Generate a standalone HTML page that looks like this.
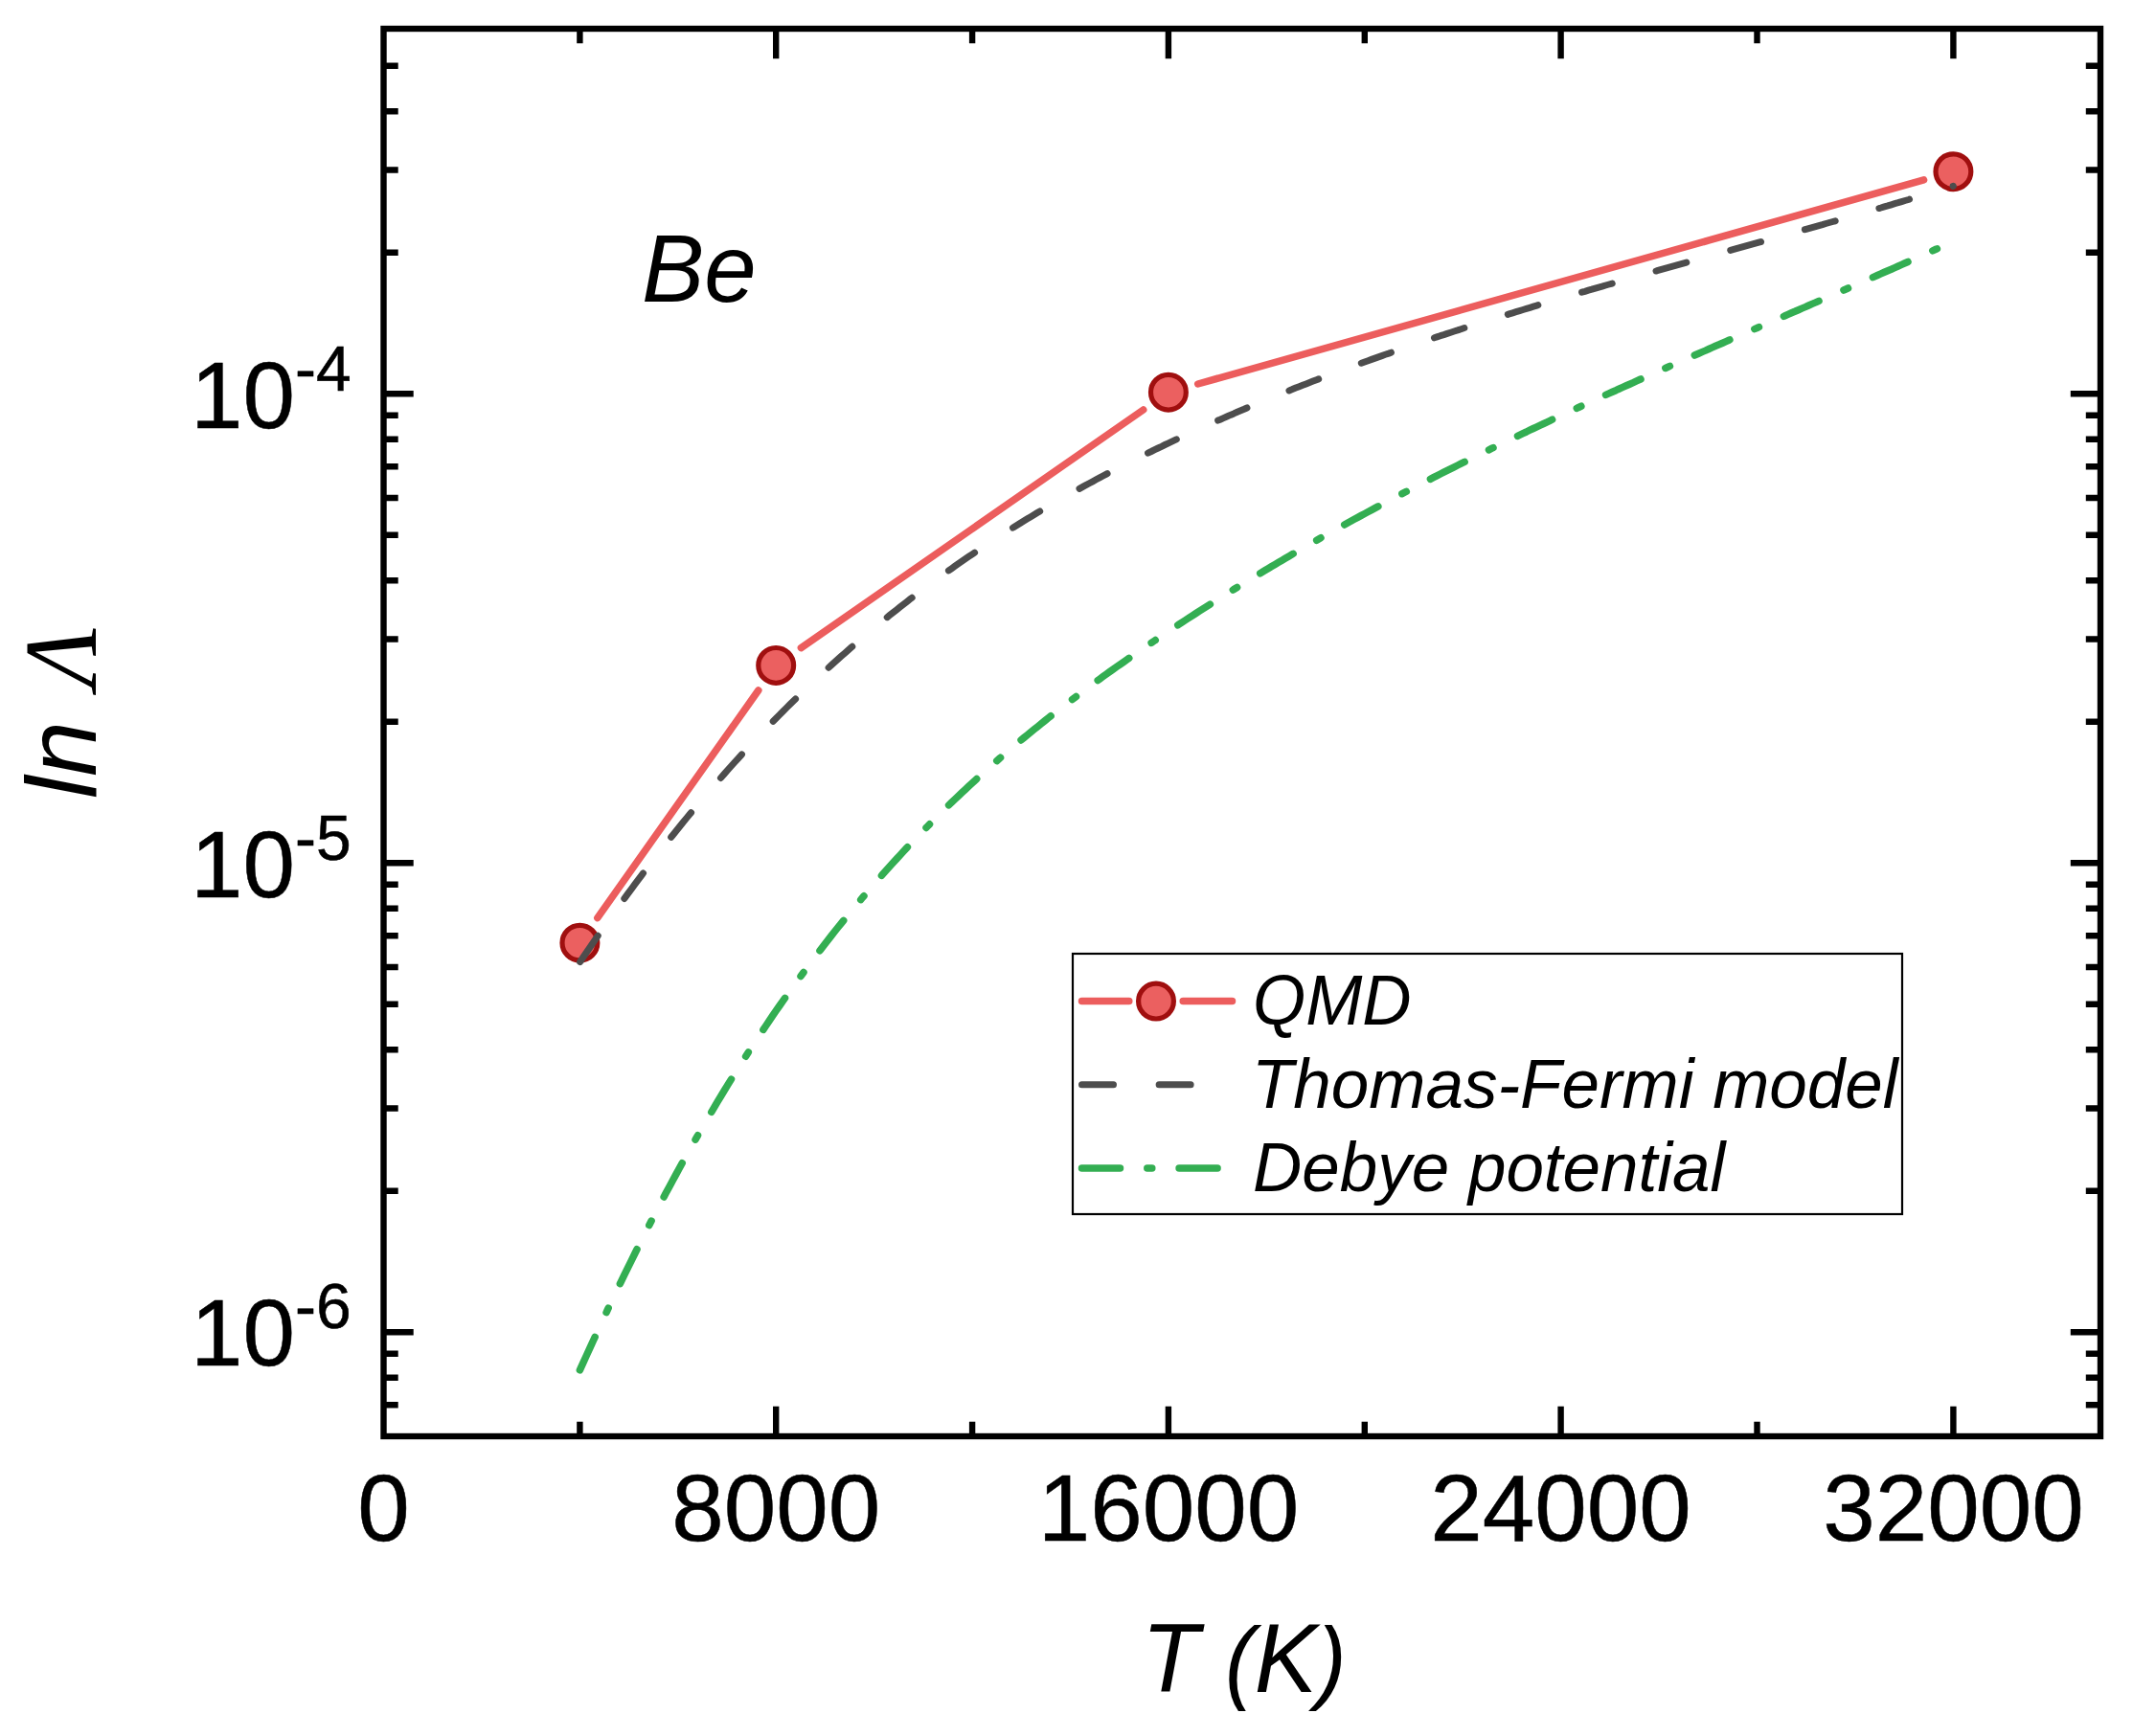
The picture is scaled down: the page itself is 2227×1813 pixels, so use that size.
<!DOCTYPE html><html><head><meta charset="utf-8"><style>html,body{margin:0;padding:0;background:#fff;overflow:hidden}svg{display:block}</style></head><body><svg width="2227" height="1813" viewBox="0 0 2227 1813">
<rect x="0" y="0" width="2227" height="1813" fill="#fff"/>
<path d="M623.8,958.6L791.8,721.0M836.4,676.6L1193.7,428.0M1250.7,401.0L2008.6,187.9" stroke="#EC5D5D" stroke-width="7.5" stroke-linecap="round" fill="none"/>
<circle cx="605.4" cy="984.7" r="18.40" fill="#EB6060" stroke="#A00F0F" stroke-width="5.2"/>
<circle cx="810.2" cy="694.9" r="18.40" fill="#EB6060" stroke="#A00F0F" stroke-width="5.2"/>
<circle cx="1219.9" cy="409.7" r="18.40" fill="#EB6060" stroke="#A00F0F" stroke-width="5.2"/>
<circle cx="2039.4" cy="179.2" r="18.40" fill="#EB6060" stroke="#A00F0F" stroke-width="5.2"/>
<path d="M605.4,1004.9 L609.0,999.5 L612.6,994.2 L616.2,989.0 L619.8,983.7 L623.4,978.5 L627.0,973.3 L630.6,968.2 L634.1,963.1 L637.7,958.0 L641.3,953.0 L644.9,948.0 L648.5,943.0 L652.1,938.1 L655.7,933.1 L659.3,928.3 L662.9,923.4 L666.5,918.6 L670.1,913.8 L673.7,909.1 L677.3,904.3 L680.9,899.7 L684.5,895.0 L688.1,890.4 L691.6,885.8 L695.2,881.2 L698.8,876.7 L702.4,872.2 L706.0,867.7 L709.6,863.2 L713.2,858.8 L716.8,854.4 L720.4,850.1 L724.0,845.7 L727.6,841.4 L731.2,837.2 L734.8,832.9 L738.4,828.7 L742.0,824.5 L745.6,820.4 L749.1,816.3 L752.7,812.2 L756.3,808.1 L759.9,804.0 L763.5,800.0 L767.1,796.0 L770.7,792.1 L774.3,788.1 L777.9,784.2 L781.5,780.4 L785.1,776.5 L788.7,772.7 L792.3,768.9 L795.9,765.1 L799.5,761.4 L803.1,757.6 L806.6,753.9 L810.2,750.3 L813.8,746.6 L817.4,743.0 L821.0,739.4 L824.6,735.8 L828.2,732.3 L831.8,728.8 L835.4,725.3 L839.0,721.8 L842.6,718.4 L846.2,715.0 L849.8,711.6 L853.4,708.2 L857.0,704.8 L860.6,701.5 L864.1,698.2 L867.7,694.9 L871.3,691.7 L874.9,688.4 L878.5,685.2 L882.1,682.1 L885.7,678.9 L889.3,675.7 L892.9,672.6 L896.5,669.5 L900.1,666.5 L903.7,663.4 L907.3,660.4 L910.9,657.4 L914.5,654.4 L918.1,651.4 L921.6,648.5 L925.2,645.5 L928.8,642.6 L932.4,639.7 L936.0,636.9 L939.6,634.0 L943.2,631.2 L946.8,628.4 L950.4,625.6 L954.0,622.9 L957.6,620.1 L961.2,617.4 L964.8,614.7 L968.4,612.0 L972.0,609.4 L975.6,606.7 L979.1,604.1 L982.7,601.5 L986.3,598.9 L989.9,596.3 L993.5,593.8 L997.1,591.2 L1000.7,588.7 L1004.3,586.2 L1007.9,583.7 L1011.5,581.2 L1015.1,578.8 L1018.7,576.4 L1022.3,573.9 L1025.9,571.5 L1029.5,569.2 L1033.1,566.8 L1036.6,564.5 L1040.2,562.1 L1043.8,559.8 L1047.4,557.5 L1051.0,555.2 L1054.6,552.9 L1058.2,550.7 L1061.8,548.5 L1065.4,546.2 L1069.0,544.0 L1072.6,541.8 L1076.2,539.7 L1079.8,537.5 L1083.4,535.3 L1087.0,533.2 L1090.6,531.1 L1094.1,529.0 L1097.7,526.9 L1101.3,524.8 L1104.9,522.7 L1108.5,520.7 L1112.1,518.6 L1115.7,516.6 L1119.3,514.6 L1122.9,512.6 L1126.5,510.6 L1130.1,508.6 L1133.7,506.7 L1137.3,504.7 L1140.9,502.8 L1144.5,500.8 L1148.1,498.9 L1151.6,497.0 L1155.2,495.1 L1158.8,493.2 L1162.4,491.4 L1166.0,489.5 L1169.6,487.7 L1173.2,485.8 L1176.8,484.0 L1180.4,482.2 L1184.0,480.4 L1187.6,478.6 L1191.2,476.8 L1194.8,475.0 L1198.4,473.2 L1202.0,471.5 L1205.6,469.7 L1209.1,468.0 L1212.7,466.3 L1216.3,464.5 L1219.9,462.8 L1223.5,461.1 L1227.1,459.4 L1230.7,457.7 L1234.3,456.1 L1237.9,454.4 L1241.5,452.7 L1245.1,451.1 L1248.7,449.4 L1252.3,447.8 L1255.9,446.2 L1259.5,444.6 L1263.1,442.9 L1266.6,441.3 L1270.2,439.7 L1273.8,438.2 L1277.4,436.6 L1281.0,435.0 L1284.6,433.4 L1288.2,431.9 L1291.8,430.3 L1295.4,428.8 L1299.0,427.3 L1302.6,425.7 L1306.2,424.2 L1309.8,422.7 L1313.4,421.2 L1317.0,419.7 L1320.6,418.2 L1324.1,416.7 L1327.7,415.3 L1331.3,413.8 L1334.9,412.3 L1338.5,410.9 L1342.1,409.4 L1345.7,408.0 L1349.3,406.6 L1352.9,405.1 L1356.5,403.7 L1360.1,402.3 L1363.7,400.9 L1367.3,399.5 L1370.9,398.1 L1374.5,396.7 L1378.1,395.4 L1381.6,394.0 L1385.2,392.6 L1388.8,391.3 L1392.4,389.9 L1396.0,388.6 L1399.6,387.2 L1403.2,385.9 L1406.8,384.6 L1410.4,383.2 L1414.0,381.9 L1417.6,380.6 L1421.2,379.3 L1424.8,378.0 L1428.4,376.7 L1432.0,375.4 L1435.6,374.1 L1439.1,372.9 L1442.7,371.6 L1446.3,370.3 L1449.9,369.1 L1453.5,367.8 L1457.1,366.5 L1460.7,365.3 L1464.3,364.1 L1467.9,362.8 L1471.5,361.6 L1475.1,360.4 L1478.7,359.1 L1482.3,357.9 L1485.9,356.7 L1489.5,355.5 L1493.1,354.3 L1496.6,353.1 L1500.2,351.9 L1503.8,350.7 L1507.4,349.6 L1511.0,348.4 L1514.6,347.2 L1518.2,346.0 L1521.8,344.9 L1525.4,343.7 L1529.0,342.5 L1532.6,341.4 L1536.2,340.2 L1539.8,339.1 L1543.4,338.0 L1547.0,336.8 L1550.6,335.7 L1554.1,334.6 L1557.7,333.4 L1561.3,332.3 L1564.9,331.2 L1568.5,330.1 L1572.1,329.0 L1575.7,327.9 L1579.3,326.8 L1582.9,325.7 L1586.5,324.6 L1590.1,323.5 L1593.7,322.4 L1597.3,321.3 L1600.9,320.2 L1604.5,319.1 L1608.1,318.0 L1611.6,317.0 L1615.2,315.9 L1618.8,314.8 L1622.4,313.7 L1626.0,312.7 L1629.6,311.6 L1633.2,310.6 L1636.8,309.5 L1640.4,308.4 L1644.0,307.4 L1647.6,306.3 L1651.2,305.3 L1654.8,304.3 L1658.4,303.2 L1662.0,302.2 L1665.6,301.1 L1669.1,300.1 L1672.7,299.1 L1676.3,298.0 L1679.9,297.0 L1683.5,296.0 L1687.1,294.9 L1690.7,293.9 L1694.3,292.9 L1697.9,291.9 L1701.5,290.8 L1705.1,289.8 L1708.7,288.8 L1712.3,287.8 L1715.9,286.8 L1719.5,285.8 L1723.1,284.8 L1726.6,283.7 L1730.2,282.7 L1733.8,281.7 L1737.4,280.7 L1741.0,279.7 L1744.6,278.7 L1748.2,277.7 L1751.8,276.7 L1755.4,275.7 L1759.0,274.7 L1762.6,273.7 L1766.2,272.7 L1769.8,271.7 L1773.4,270.7 L1777.0,269.7 L1780.6,268.7 L1784.1,267.7 L1787.7,266.7 L1791.3,265.7 L1794.9,264.7 L1798.5,263.7 L1802.1,262.7 L1805.7,261.7 L1809.3,260.7 L1812.9,259.7 L1816.5,258.7 L1820.1,257.7 L1823.7,256.7 L1827.3,255.7 L1830.9,254.7 L1834.5,253.7 L1838.1,252.7 L1841.6,251.7 L1845.2,250.7 L1848.8,249.7 L1852.4,248.7 L1856.0,247.7 L1859.6,246.7 L1863.2,245.7 L1866.8,244.7 L1870.4,243.7 L1874.0,242.7 L1877.6,241.7 L1881.2,240.6 L1884.8,239.6 L1888.4,238.6 L1892.0,237.6 L1895.6,236.6 L1899.1,235.6 L1902.7,234.6 L1906.3,233.5 L1909.9,232.5 L1913.5,231.5 L1917.1,230.5 L1920.7,229.4 L1924.3,228.4 L1927.9,227.4 L1931.5,226.4 L1935.1,225.3 L1938.7,224.3 L1942.3,223.2 L1945.9,222.2 L1949.5,221.2 L1953.1,220.1 L1956.6,219.1 L1960.2,218.0 L1963.8,217.0 L1967.4,215.9 L1971.0,214.9 L1974.6,213.8 L1978.2,212.7 L1981.8,211.7 L1985.4,210.6 L1989.0,209.5 L1992.6,208.5 L1996.2,207.4 L1999.8,206.3 L2003.4,205.2 L2007.0,204.2 L2010.6,203.1 L2014.1,202.0 L2017.7,200.9 L2021.3,199.8 L2024.9,198.7 L2028.5,197.6 L2032.1,196.5 L2035.7,195.4 L2039.3,194.3" stroke="#4D4D4D" stroke-width="7.0" stroke-linecap="round" stroke-linejoin="round" fill="none" stroke-dasharray="33.0 47.63" stroke-dashoffset="-0.46"/>
<path d="M605.4,1430.9 L609.0,1422.9 L612.6,1415.0 L616.2,1407.1 L619.8,1399.3 L623.4,1391.5 L627.0,1383.8 L630.6,1376.1 L634.1,1368.4 L637.7,1360.8 L641.3,1353.3 L644.9,1345.8 L648.5,1338.3 L652.1,1330.9 L655.7,1323.6 L659.3,1316.3 L662.9,1309.0 L666.5,1301.8 L670.1,1294.7 L673.7,1287.6 L677.3,1280.5 L680.9,1273.5 L684.5,1266.6 L688.1,1259.7 L691.6,1252.9 L695.2,1246.1 L698.8,1239.4 L702.4,1232.7 L706.0,1226.1 L709.6,1219.5 L713.2,1213.0 L716.8,1206.5 L720.4,1200.1 L724.0,1193.7 L727.6,1187.4 L731.2,1181.2 L734.8,1175.0 L738.4,1168.8 L742.0,1162.7 L745.6,1156.6 L749.1,1150.6 L752.7,1144.7 L756.3,1138.8 L759.9,1132.9 L763.5,1127.1 L767.1,1121.3 L770.7,1115.6 L774.3,1109.9 L777.9,1104.3 L781.5,1098.7 L785.1,1093.2 L788.7,1087.7 L792.3,1082.3 L795.9,1076.9 L799.5,1071.5 L803.1,1066.2 L806.6,1060.9 L810.2,1055.7 L813.8,1050.5 L817.4,1045.4 L821.0,1040.3 L824.6,1035.2 L828.2,1030.2 L831.8,1025.2 L835.4,1020.3 L839.0,1015.4 L842.6,1010.5 L846.2,1005.7 L849.8,1000.9 L853.4,996.2 L857.0,991.5 L860.6,986.8 L864.1,982.2 L867.7,977.6 L871.3,973.0 L874.9,968.5 L878.5,964.1 L882.1,959.6 L885.7,955.2 L889.3,950.8 L892.9,946.5 L896.5,942.2 L900.1,937.9 L903.7,933.7 L907.3,929.5 L910.9,925.3 L914.5,921.2 L918.1,917.1 L921.6,913.0 L925.2,909.0 L928.8,905.0 L932.4,901.0 L936.0,897.1 L939.6,893.2 L943.2,889.3 L946.8,885.4 L950.4,881.6 L954.0,877.8 L957.6,874.1 L961.2,870.4 L964.8,866.7 L968.4,863.0 L972.0,859.3 L975.6,855.7 L979.1,852.1 L982.7,848.6 L986.3,845.0 L989.9,841.5 L993.5,838.1 L997.1,834.6 L1000.7,831.2 L1004.3,827.8 L1007.9,824.4 L1011.5,821.0 L1015.1,817.7 L1018.7,814.4 L1022.3,811.1 L1025.9,807.9 L1029.5,804.6 L1033.1,801.4 L1036.6,798.2 L1040.2,795.1 L1043.8,791.9 L1047.4,788.8 L1051.0,785.7 L1054.6,782.6 L1058.2,779.6 L1061.8,776.5 L1065.4,773.5 L1069.0,770.5 L1072.6,767.6 L1076.2,764.6 L1079.8,761.7 L1083.4,758.8 L1087.0,755.9 L1090.6,753.0 L1094.1,750.1 L1097.7,747.3 L1101.3,744.5 L1104.9,741.6 L1108.5,738.9 L1112.1,736.1 L1115.7,733.3 L1119.3,730.6 L1122.9,727.9 L1126.5,725.2 L1130.1,722.5 L1133.7,719.8 L1137.3,717.1 L1140.9,714.5 L1144.5,711.8 L1148.1,709.2 L1151.6,706.6 L1155.2,704.0 L1158.8,701.4 L1162.4,698.9 L1166.0,696.3 L1169.6,693.8 L1173.2,691.3 L1176.8,688.7 L1180.4,686.2 L1184.0,683.7 L1187.6,681.2 L1191.2,678.8 L1194.8,676.3 L1198.4,673.9 L1202.0,671.4 L1205.6,669.0 L1209.1,666.6 L1212.7,664.1 L1216.3,661.7 L1219.9,659.3 L1223.5,657.0 L1227.1,654.6 L1230.7,652.2 L1234.3,649.9 L1237.9,647.5 L1241.5,645.2 L1245.1,642.8 L1248.7,640.5 L1252.3,638.2 L1255.9,635.9 L1259.5,633.6 L1263.1,631.3 L1266.6,629.0 L1270.2,626.8 L1273.8,624.5 L1277.4,622.2 L1281.0,620.0 L1284.6,617.8 L1288.2,615.5 L1291.8,613.3 L1295.4,611.1 L1299.0,608.9 L1302.6,606.7 L1306.2,604.5 L1309.8,602.3 L1313.4,600.1 L1317.0,598.0 L1320.6,595.8 L1324.1,593.7 L1327.7,591.5 L1331.3,589.4 L1334.9,587.3 L1338.5,585.2 L1342.1,583.0 L1345.7,580.9 L1349.3,578.8 L1352.9,576.8 L1356.5,574.7 L1360.1,572.6 L1363.7,570.5 L1367.3,568.5 L1370.9,566.4 L1374.5,564.4 L1378.1,562.3 L1381.6,560.3 L1385.2,558.3 L1388.8,556.3 L1392.4,554.3 L1396.0,552.3 L1399.6,550.3 L1403.2,548.3 L1406.8,546.3 L1410.4,544.3 L1414.0,542.3 L1417.6,540.4 L1421.2,538.4 L1424.8,536.5 L1428.4,534.5 L1432.0,532.6 L1435.6,530.6 L1439.1,528.7 L1442.7,526.8 L1446.3,524.9 L1449.9,523.0 L1453.5,521.1 L1457.1,519.2 L1460.7,517.3 L1464.3,515.4 L1467.9,513.5 L1471.5,511.7 L1475.1,509.8 L1478.7,507.9 L1482.3,506.1 L1485.9,504.2 L1489.5,502.4 L1493.1,500.5 L1496.6,498.7 L1500.2,496.9 L1503.8,495.0 L1507.4,493.2 L1511.0,491.4 L1514.6,489.6 L1518.2,487.8 L1521.8,486.0 L1525.4,484.2 L1529.0,482.4 L1532.6,480.6 L1536.2,478.8 L1539.8,477.1 L1543.4,475.3 L1547.0,473.5 L1550.6,471.8 L1554.1,470.0 L1557.7,468.2 L1561.3,466.5 L1564.9,464.8 L1568.5,463.0 L1572.1,461.3 L1575.7,459.5 L1579.3,457.8 L1582.9,456.1 L1586.5,454.4 L1590.1,452.7 L1593.7,451.0 L1597.3,449.2 L1600.9,447.5 L1604.5,445.8 L1608.1,444.1 L1611.6,442.5 L1615.2,440.8 L1618.8,439.1 L1622.4,437.4 L1626.0,435.7 L1629.6,434.0 L1633.2,432.4 L1636.8,430.7 L1640.4,429.0 L1644.0,427.4 L1647.6,425.7 L1651.2,424.1 L1654.8,422.4 L1658.4,420.8 L1662.0,419.1 L1665.6,417.5 L1669.1,415.8 L1672.7,414.2 L1676.3,412.5 L1679.9,410.9 L1683.5,409.3 L1687.1,407.7 L1690.7,406.0 L1694.3,404.4 L1697.9,402.8 L1701.5,401.2 L1705.1,399.6 L1708.7,397.9 L1712.3,396.3 L1715.9,394.7 L1719.5,393.1 L1723.1,391.5 L1726.6,389.9 L1730.2,388.3 L1733.8,386.7 L1737.4,385.1 L1741.0,383.5 L1744.6,381.9 L1748.2,380.3 L1751.8,378.7 L1755.4,377.1 L1759.0,375.6 L1762.6,374.0 L1766.2,372.4 L1769.8,370.8 L1773.4,369.2 L1777.0,367.6 L1780.6,366.1 L1784.1,364.5 L1787.7,362.9 L1791.3,361.3 L1794.9,359.8 L1798.5,358.2 L1802.1,356.6 L1805.7,355.0 L1809.3,353.5 L1812.9,351.9 L1816.5,350.3 L1820.1,348.8 L1823.7,347.2 L1827.3,345.6 L1830.9,344.0 L1834.5,342.5 L1838.1,340.9 L1841.6,339.3 L1845.2,337.8 L1848.8,336.2 L1852.4,334.6 L1856.0,333.1 L1859.6,331.5 L1863.2,330.0 L1866.8,328.4 L1870.4,326.8 L1874.0,325.3 L1877.6,323.7 L1881.2,322.1 L1884.8,320.6 L1888.4,319.0 L1892.0,317.4 L1895.6,315.9 L1899.1,314.3 L1902.7,312.7 L1906.3,311.2 L1909.9,309.6 L1913.5,308.0 L1917.1,306.4 L1920.7,304.9 L1924.3,303.3 L1927.9,301.7 L1931.5,300.1 L1935.1,298.6 L1938.7,297.0 L1942.3,295.4 L1945.9,293.8 L1949.5,292.3 L1953.1,290.7 L1956.6,289.1 L1960.2,287.5 L1963.8,285.9 L1967.4,284.3 L1971.0,282.7 L1974.6,281.2 L1978.2,279.6 L1981.8,278.0 L1985.4,276.4 L1989.0,274.8 L1992.6,273.2 L1996.2,271.6 L1999.8,270.0 L2003.4,268.4 L2007.0,266.8 L2010.6,265.2 L2014.1,263.5 L2017.7,261.9 L2021.3,260.3 L2024.9,258.7 L2028.5,257.1 L2032.1,255.5 L2035.7,253.8 L2039.3,252.2" stroke="#33AE52" stroke-width="7.5" stroke-linecap="round" stroke-linejoin="round" fill="none" stroke-dasharray="40.0 28.29 5.0 28.29" stroke-dashoffset="2.04"/>
<g stroke="#000" fill="none" stroke-linecap="square">
<rect x="400.5" y="30.0" width="1792.5" height="1470.0" stroke-width="6.4"/>
<path d="M605.4,1500.0V1484.8M605.4,30.0V45.2M810.2,1500.0V1468.8M810.2,30.0V61.2M1015.1,1500.0V1484.8M1015.1,30.0V45.2M1219.9,1500.0V1468.8M1219.9,30.0V61.2M1424.8,1500.0V1484.8M1424.8,30.0V45.2M1629.6,1500.0V1468.8M1629.6,30.0V61.2M1834.5,1500.0V1484.8M1834.5,30.0V45.2M2039.4,1500.0V1468.8M2039.4,30.0V61.2M400.5,1467.2H415.7M2193.0,1467.2H2177.8M400.5,1438.8H415.7M2193.0,1438.8H2177.8M400.5,1413.7H415.7M2193.0,1413.7H2177.8M400.5,1391.3H431.7M2193.0,1391.3H2161.8M400.5,1243.8H415.7M2193.0,1243.8H2177.8M400.5,1157.5H415.7M2193.0,1157.5H2177.8M400.5,1096.3H415.7M2193.0,1096.3H2177.8M400.5,1048.8H415.7M2193.0,1048.8H2177.8M400.5,1010.0H415.7M2193.0,1010.0H2177.8M400.5,977.2H415.7M2193.0,977.2H2177.8M400.5,948.8H415.7M2193.0,948.8H2177.8M400.5,923.7H415.7M2193.0,923.7H2177.8M400.5,901.3H431.7M2193.0,901.3H2161.8M400.5,753.8H415.7M2193.0,753.8H2177.8M400.5,667.5H415.7M2193.0,667.5H2177.8M400.5,606.3H415.7M2193.0,606.3H2177.8M400.5,558.8H415.7M2193.0,558.8H2177.8M400.5,520.0H415.7M2193.0,520.0H2177.8M400.5,487.2H415.7M2193.0,487.2H2177.8M400.5,458.8H415.7M2193.0,458.8H2177.8M400.5,433.7H415.7M2193.0,433.7H2177.8M400.5,411.3H431.7M2193.0,411.3H2161.8M400.5,263.8H415.7M2193.0,263.8H2177.8M400.5,177.5H415.7M2193.0,177.5H2177.8M400.5,116.3H415.7M2193.0,116.3H2177.8M400.5,68.8H415.7M2193.0,68.8H2177.8" stroke-width="6.4" stroke-linecap="butt"/>
</g>
<rect x="1120.0" y="996.0" width="866.0" height="272.0" fill="#fff" stroke="#000" stroke-width="2.2"/>
<path d="M1129.5,1045.6H1178.8M1235.2,1045.6H1286.5" stroke="#EC5D5D" stroke-width="7.5" stroke-linecap="round"/>
<circle cx="1207.0" cy="1045.6" r="18.40" fill="#EB6060" stroke="#A00F0F" stroke-width="5.2"/>
<path d="M1129.5,1132.8H1286.5" stroke="#4D4D4D" stroke-width="7.0" stroke-linecap="round" stroke-dasharray="33.0 47.63"/>
<path d="M1129.5,1220.0H1286.5" stroke="#33AE52" stroke-width="7.5" stroke-linecap="round" stroke-dasharray="40.0 28.29 5.0 28.29"/>
<g style="font-family:'Liberation Sans',Arial,sans-serif;font-style:italic;font-size:71px" fill="#000">
<text transform="translate(1308,1070.4) scale(1,1.04)">QMD</text>
<text transform="translate(1307,1157.2) scale(1,1.015)">Thomas-Fermi model</text>
<text transform="translate(1308,1243.5) scale(1,1.015)">Debye potential</text>
</g>
<g style="font-family:'Liberation Sans',Arial,sans-serif;font-size:98px" fill="#000" stroke="#000" stroke-width="0.5" text-anchor="middle">
<text x="400.5" y="1608.5">0</text>
<text x="810.2" y="1608.5">8000</text>
<text x="1219.9" y="1608.5">16000</text>
<text x="1629.6" y="1608.5">24000</text>
<text x="2039.4" y="1608.5">32000</text>
</g>
<text style="font-family:'Liberation Sans',Arial,sans-serif;font-size:98px" stroke="#000" stroke-width="0.5" x="199" y="446.5">10<tspan style="font-size:66px" dy="-39">-4</tspan></text>
<text style="font-family:'Liberation Sans',Arial,sans-serif;font-size:98px" stroke="#000" stroke-width="0.5" x="199" y="936.5">10<tspan style="font-size:66px" dy="-39">-5</tspan></text>
<text style="font-family:'Liberation Sans',Arial,sans-serif;font-size:98px" stroke="#000" stroke-width="0.5" x="199" y="1426.0">10<tspan style="font-size:66px" dy="-39">-6</tspan></text>
<text style="font-family:'Liberation Sans',Arial,sans-serif;font-style:italic;font-size:98px" transform="translate(1192,1767) scale(1,1.04)">T <tspan style="font-size:92px">(</tspan>K<tspan style="font-size:92px">)</tspan></text>
<text transform="translate(100,834) rotate(-90)" style="font-family:'Liberation Sans',Arial,sans-serif;font-style:italic;font-size:104px" x="0" y="0">ln</text>
<text transform="translate(100,718) rotate(-90) scale(0.957,1)" style="font-family:'Liberation Serif','Times New Roman',serif;font-style:italic;font-size:108px" x="0" y="0">&#923;</text>
<text style="font-family:'Liberation Sans',Arial,sans-serif;font-style:italic;font-size:98px" transform="translate(670,315) scale(1,1.025)">Be</text>
</svg></body></html>
